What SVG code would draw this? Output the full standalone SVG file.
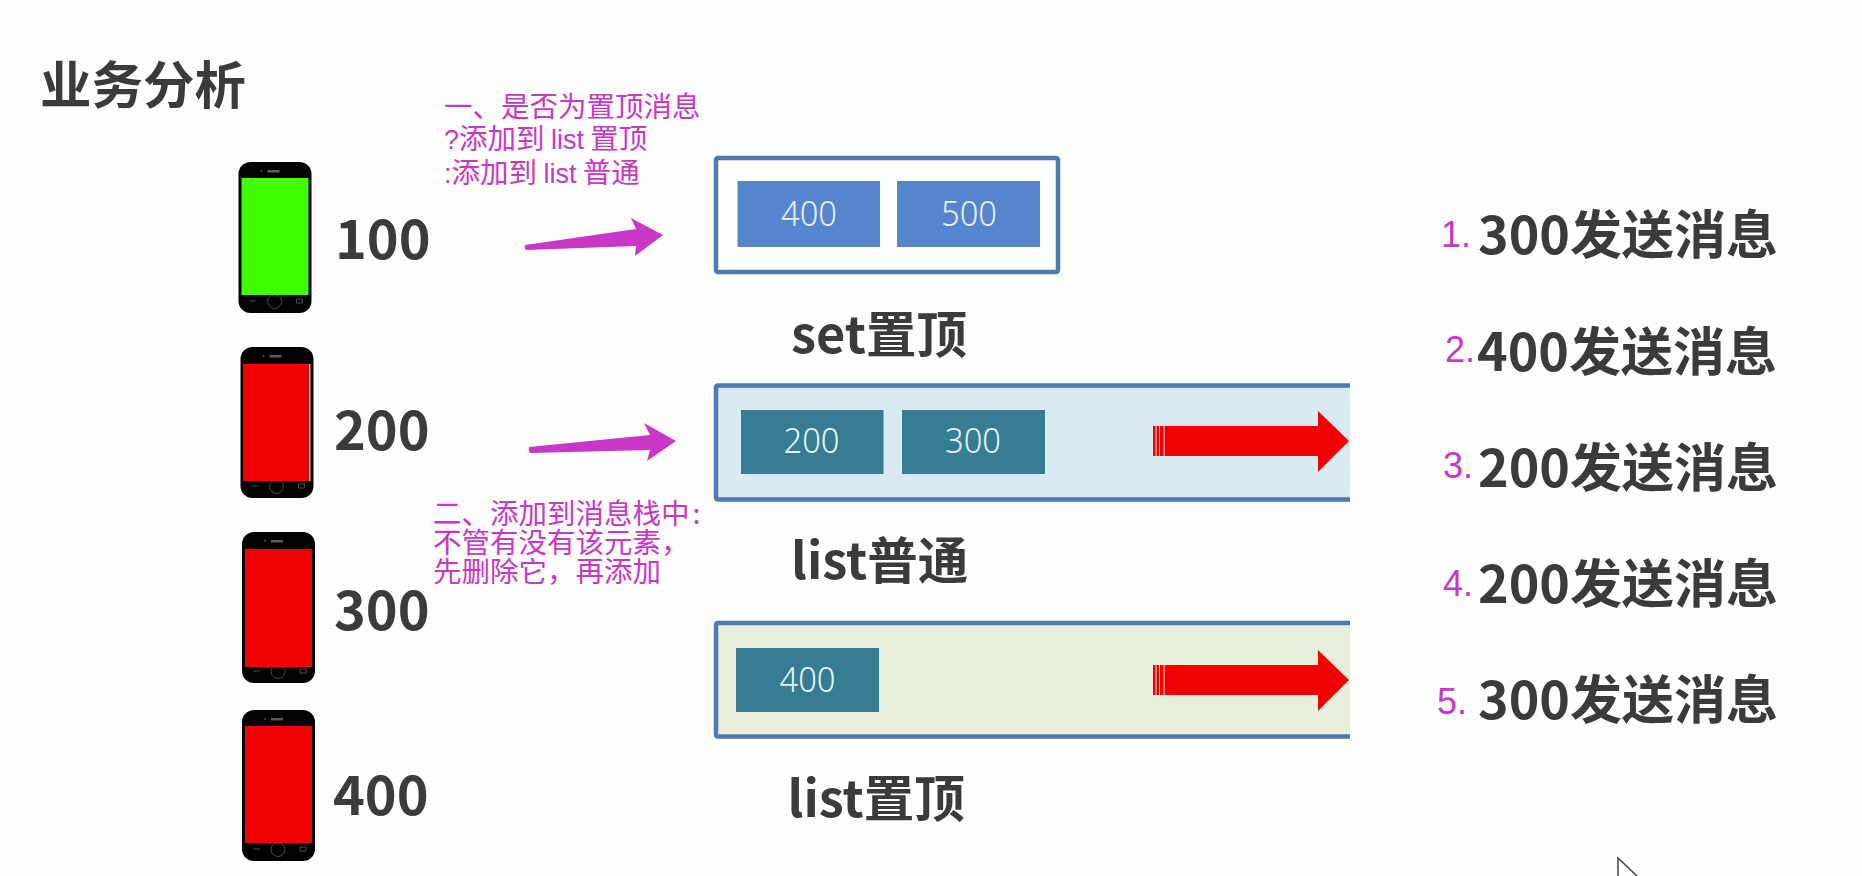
<svg xmlns="http://www.w3.org/2000/svg" xmlns:xlink="http://www.w3.org/1999/xlink" width="1862" height="876" viewBox="0 0 1862 876">
<style>
text{font-family:"Noto Sans CJK SC","Noto Sans",sans-serif}
.h{font-weight:700;fill:#3a3c3a}
.m{font-size:28.500px;fill:#c837c8;font-weight:400}
.a{font-family:"Liberation Sans",sans-serif;font-size:27px}
.n{font-size:36px;fill:#c837c8;font-family:"Liberation Sans",sans-serif}
.c{font-size:35px;font-family:"Noto Sans",sans-serif;font-weight:300;text-anchor:middle}
.frame{fill:none;stroke:#4f79b0;stroke-width:4.5}
.body{fill:#020202}
.det{fill:none;stroke:#4a4a4a;stroke-width:1}
.red{fill:#f00000}
.mag{fill:#c837c8}
</style>
<defs>
<g id="phoneBase">
<rect class="body" x="0" y="0" width="73" height="151" rx="12"/>
<rect x="29" y="8" width="12" height="2.500" fill="#5a5a5a"/>
<circle cx="23" cy="9" r="1" fill="#4a4a4a"/>
<ellipse class="det" cx="36" cy="139.500" rx="7" ry="7"/>
<path class="det" d="M11 139h7M58 137h6v4h-6z"/>
</g>
<g id="arrowRed">
<rect class="red" x="0" y="15" width="2.500" height="30"/>
<rect class="red" x="3.500" y="15" width="2.500" height="30"/>
<rect class="red" x="7" y="15" width="3.500" height="30"/>
<path class="red" d="M11.500 15H165V0L196 30L165 61V45H11.500z"/>
</g>
</defs>
<rect width="1862" height="876" fill="#fefefd"/>
<text id="title" class="h" x="40" y="104" font-size="51.500">业务分析</text>
<g id="phone-100">
<use xlink:href="#phoneBase" href="#phoneBase" x="238.500" y="162"/>
<rect x="241.500" y="178" width="67" height="117" fill="#40ff00"/>
<text class="h" x="335" y="259" font-size="54">100</text>
</g>
<g id="phone-200">
<use xlink:href="#phoneBase" href="#phoneBase" x="240.500" y="347"/>
<rect x="243" y="364" width="66" height="117" fill="#f00000"/>
<rect x="309" y="364" width="1.500" height="117" fill="#e8c8c8"/>
<text class="h" x="334" y="450" font-size="54">200</text>
</g>
<g id="phone-300">
<use xlink:href="#phoneBase" href="#phoneBase" x="242" y="532"/>
<rect x="245" y="549" width="67" height="118" fill="#f00000"/>
<text class="h" x="334" y="630" font-size="54">300</text>
</g>
<g id="phone-400">
<use xlink:href="#phoneBase" href="#phoneBase" x="242" y="710"/>
<rect x="245" y="726" width="67" height="117" fill="#f00000"/>
<text class="h" x="333" y="815" font-size="54">400</text>
</g>
<g id="note-1">
<text class="m" x="444" y="117">一、是否为置顶消息</text>
<text class="m" x="444" y="149"><tspan class="a">?</tspan>添加到 <tspan class="a">list</tspan> 置顶</text>
<text class="m" x="444" y="183"><tspan class="a">:</tspan>添加到 <tspan class="a">list</tspan> 普通</text>
</g>
<g id="note-2">
<text class="m" x="433" y="524">二、添加到消息栈中<tspan dx="3">:</tspan></text>
<text class="m" x="433" y="553">不管有没有该元素，</text>
<text class="m" x="433" y="582">先删除它，再添加</text>
</g>
<g id="connectors">
<path class="mag" d="M525 245L636 229L631 218L663 235L635 256L636 246L526 250Q524 248 525 245z"/>
<path class="mag" d="M529 447L650 435L644 423L676 441L647 461L650 450L530 453Q528 450 529 447z"/>
</g>
<g id="set-box">
<rect class="frame" x="716" y="158" width="342" height="114" rx="2"/>
<rect x="737.500" y="181" width="142.500" height="66" fill="#5585ce"/>
<rect x="897" y="181" width="143" height="66" fill="#5585ce"/>
<text class="c" x="809" y="226" fill="#e8f0fa" textLength="56" lengthAdjust="spacingAndGlyphs">400</text>
<text class="c" x="969" y="226" fill="#e8f0fa" textLength="56" lengthAdjust="spacingAndGlyphs">500</text>
<text class="h" x="791" y="353" font-size="50.500">set置顶</text>
</g>
<g id="list-normal">
<rect x="716" y="386" width="634" height="114" fill="#d9eaf3"/>
<path class="frame" d="M1350 385.500H718Q716 385.500 716 388V497Q716 499.500 718 499.500H1350"/>
<rect x="741" y="410" width="142.500" height="64" fill="#367d93"/>
<rect x="902" y="410" width="143" height="64" fill="#367d93"/>
<text class="c" x="811.500" y="453" fill="#e4f6f8" textLength="56" lengthAdjust="spacingAndGlyphs">200</text>
<text class="c" x="973" y="453" fill="#e4f6f8" textLength="56" lengthAdjust="spacingAndGlyphs">300</text>
<use xlink:href="#arrowRed" href="#arrowRed" x="1153" y="411"/>
<text class="h" x="791" y="579" font-size="50.500">list普通</text>
</g>
<g id="list-top">
<rect x="716" y="623" width="634" height="114" fill="#e8eedc"/>
<path class="frame" d="M1350 623H718Q716 623 716 625.500V734Q716 736.500 718 736.500H1350"/>
<rect x="736" y="648" width="143" height="64" fill="#367d93"/>
<text class="c" x="807.500" y="692" fill="#e4f6f8" textLength="56" lengthAdjust="spacingAndGlyphs">400</text>
<use xlink:href="#arrowRed" href="#arrowRed" x="1153" y="650"/>
<text class="h" x="787.500" y="817" font-size="50.500">list置顶</text>
</g>
<g id="step-1"><text class="n" x="1441" y="247">1.</text><text class="h" x="1478" y="254" font-size="52">300发送消息</text></g>
<g id="step-2"><text class="n" x="1445" y="362">2.</text><text class="h" x="1477" y="371" font-size="52">400发送消息</text></g>
<g id="step-3"><text class="n" x="1443" y="478">3.</text><text class="h" x="1478" y="487" font-size="52">200发送消息</text></g>
<g id="step-4"><text class="n" x="1443" y="596">4.</text><text class="h" x="1478" y="603" font-size="52">200发送消息</text></g>
<g id="step-5"><text class="n" x="1437" y="714">5.</text><text class="h" x="1478" y="719" font-size="52">300发送消息</text></g>
<path id="cursor" d="M1618 876V858L1637 876" fill="none" stroke="#444" stroke-width="1.500"/>
</svg>
